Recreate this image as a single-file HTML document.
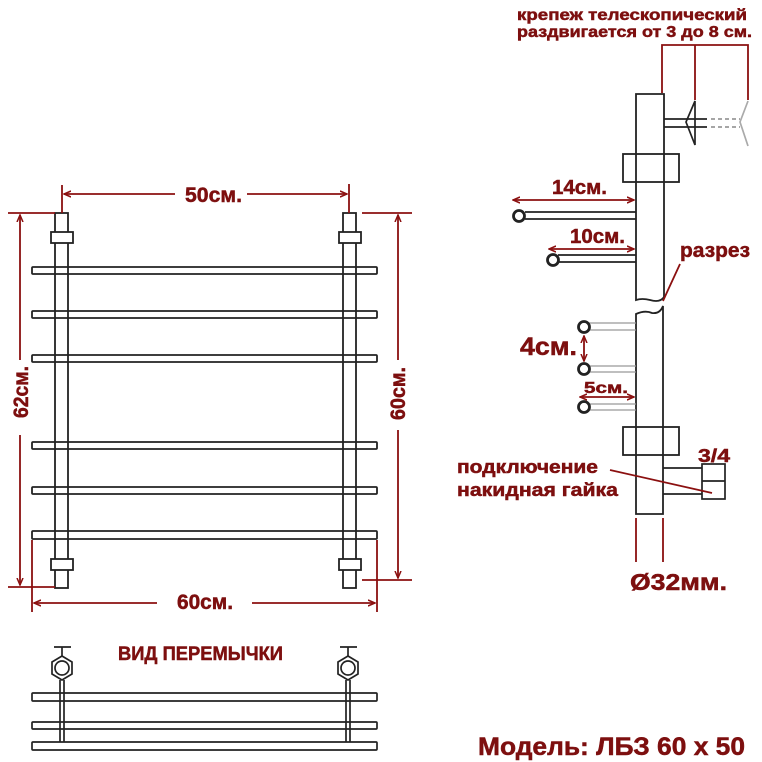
<!DOCTYPE html>
<html><head><meta charset="utf-8"><style>
html,body{margin:0;padding:0;background:#fff;width:762px;height:762px;overflow:hidden}
svg{display:block}
text{font-family:"Liberation Sans",sans-serif;font-weight:bold;fill:#7d0f0f;stroke:#7d0f0f;stroke-width:0.5}
</style></head><body>
<svg width="762" height="762" viewBox="0 0 762 762" xmlns="http://www.w3.org/2000/svg">
<defs>
<marker id="a" markerWidth="8" markerHeight="8" refX="7" refY="4" orient="auto-start-reverse" markerUnits="userSpaceOnUse"><path d="M0,1 L7,4 L0,7" fill="none" stroke="#8b1010" stroke-width="1.5"/></marker>
</defs>
<g fill="#fff" stroke="#222" stroke-width="1.8">
<rect x="55" y="213" width="13" height="375"/>
<rect x="343" y="213" width="13" height="375"/>
<rect x="51" y="232" width="22" height="11"/>
<rect x="339" y="232" width="22" height="11"/>
<rect x="51" y="559" width="22" height="11"/>
<rect x="339" y="559" width="22" height="11"/>
</g>
<g fill="none" stroke="#222" stroke-width="1.8">
<rect x="32" y="267" width="345" height="7" rx="1"/>
<rect x="32" y="311" width="345" height="7" rx="1"/>
<rect x="32" y="355" width="345" height="7" rx="1"/>
<rect x="32" y="442" width="345" height="7" rx="1"/>
<rect x="32" y="487" width="345" height="7" rx="1"/>
<rect x="32" y="531" width="345" height="8" rx="1"/>
</g>
<g stroke="#8b1010" stroke-width="1.8" fill="none">
<line x1="62" y1="185" x2="62" y2="213"/><line x1="349" y1="184" x2="349" y2="213"/>
<line x1="64" y1="194" x2="175" y2="194" marker-start="url(#a)"/>
<line x1="247" y1="194" x2="347" y2="194" marker-end="url(#a)"/>
<line x1="8" y1="213" x2="55" y2="213"/><line x1="8" y1="587" x2="55" y2="587"/>
<line x1="20" y1="215" x2="20" y2="360" marker-start="url(#a)"/>
<line x1="20" y1="435" x2="20" y2="585" marker-end="url(#a)"/>
<line x1="362" y1="213" x2="412" y2="213"/><line x1="362" y1="580" x2="412" y2="580"/>
<line x1="398" y1="215" x2="398" y2="360" marker-start="url(#a)"/>
<line x1="398" y1="430" x2="398" y2="578" marker-end="url(#a)"/>
<line x1="32" y1="540" x2="32" y2="612"/><line x1="377" y1="540" x2="377" y2="612"/>
<line x1="34" y1="603" x2="157" y2="603" marker-start="url(#a)"/>
<line x1="252" y1="603" x2="375" y2="603" marker-end="url(#a)"/>
</g>
<text x="185" y="202" font-size="21" textLength="57" lengthAdjust="spacingAndGlyphs">50см.</text>
<text x="177" y="609" font-size="21" textLength="56" lengthAdjust="spacingAndGlyphs">60см.</text>
<text transform="translate(28,418) rotate(-90)" font-size="21" textLength="52" lengthAdjust="spacingAndGlyphs">62см.</text>
<text transform="translate(405,420) rotate(-90)" font-size="21" textLength="53" lengthAdjust="spacingAndGlyphs">60см.</text>

<text x="517" y="20" font-size="16" textLength="230" lengthAdjust="spacingAndGlyphs">крепеж телескопический</text>
<text x="517" y="37" font-size="16" textLength="235" lengthAdjust="spacingAndGlyphs">раздвигается от 3 до 8 см.</text>
<g stroke="#8b1010" stroke-width="1.8" fill="none">
<polyline points="662,93 662,45 748,45 748,100"/>
<line x1="695" y1="45" x2="695" y2="100"/>
</g>
<g stroke="#222" stroke-width="1.8" fill="#fff">
<path d="M636,94 H664 V297 Q660,303 650,300 Q642,298 636,300 Z"/>
<path d="M636,314 Q645,310 652,313 Q660,314 663,306 V514 H636 Z"/>
<rect x="623" y="154" width="56" height="28" fill="none"/>
<rect x="623" y="427" width="56" height="28" fill="none"/>
</g>
<g stroke="#222" stroke-width="1.7" fill="none">
<line x1="664" y1="119" x2="707" y2="119"/><line x1="664" y1="127" x2="707" y2="127"/>
<path d="M695,101 L686,122 L695,145 Z"/>
<line x1="711" y1="119" x2="740" y2="119" stroke="#999" stroke-dasharray="4,3"/>
<line x1="711" y1="127" x2="740" y2="127" stroke="#999" stroke-dasharray="4,3"/>
<path d="M748,101 L740,122 L748,146" stroke="#aaa"/>
<line x1="525" y1="212" x2="636" y2="212"/><line x1="525" y1="219" x2="636" y2="219"/>
<line x1="558" y1="255" x2="636" y2="255"/><line x1="558" y1="262" x2="636" y2="262"/>
<circle cx="519" cy="216" r="5.5" stroke-width="2.8"/>
<circle cx="553" cy="260" r="5.5" stroke-width="2.8"/>
<g stroke="#999" stroke-width="1.2">
<line x1="589" y1="323" x2="636" y2="323"/><line x1="589" y1="330" x2="636" y2="330"/>
<line x1="589" y1="366" x2="636" y2="366"/><line x1="589" y1="372" x2="636" y2="372"/>
<line x1="589" y1="404" x2="636" y2="404"/><line x1="589" y1="410" x2="636" y2="410"/>
</g>
<circle cx="584" cy="327" r="5.5" stroke-width="2.8"/>
<circle cx="584" cy="369" r="5.5" stroke-width="2.8"/>
<circle cx="584" cy="407" r="5.5" stroke-width="2.8"/>
<line x1="663" y1="468" x2="702" y2="468"/><line x1="663" y1="494" x2="702" y2="494"/>
<rect x="702" y="464" width="23" height="35"/><line x1="702" y1="481" x2="725" y2="481"/>
</g>
<g stroke="#8b1010" stroke-width="1.8" fill="none">
<line x1="513" y1="200" x2="634" y2="200" marker-start="url(#a)" marker-end="url(#a)"/>
<line x1="549" y1="249" x2="634" y2="249" marker-start="url(#a)" marker-end="url(#a)"/>
<line x1="584" y1="336" x2="584" y2="361" marker-start="url(#a)" marker-end="url(#a)"/>
<line x1="580" y1="397" x2="634" y2="397" marker-start="url(#a)" marker-end="url(#a)"/>
<polyline points="680,264 668,290 663,301"/>
<line x1="610" y1="470" x2="712" y2="493"/>
<line x1="636" y1="518" x2="636" y2="562"/><line x1="663" y1="518" x2="663" y2="562"/>
</g>
<text x="552" y="194" font-size="20" textLength="55" lengthAdjust="spacingAndGlyphs">14см.</text>
<text x="570" y="243" font-size="20" textLength="55" lengthAdjust="spacingAndGlyphs">10см.</text>
<text x="680" y="257" font-size="20" textLength="70" lengthAdjust="spacingAndGlyphs">разрез</text>
<text x="520" y="355" font-size="25" textLength="57" lengthAdjust="spacingAndGlyphs">4см.</text>
<text x="584" y="393" font-size="16" textLength="44" lengthAdjust="spacingAndGlyphs">5см.</text>
<text x="698" y="462" font-size="18" textLength="32" lengthAdjust="spacingAndGlyphs">3/4</text>
<text x="457" y="473" font-size="18" textLength="141" lengthAdjust="spacingAndGlyphs">подключение</text>
<text x="457" y="496" font-size="18" textLength="161" lengthAdjust="spacingAndGlyphs">накидная гайка</text>
<text x="630" y="590" font-size="23" textLength="97" lengthAdjust="spacingAndGlyphs">Ø32мм.</text>

<text x="118" y="660" font-size="19" textLength="165" lengthAdjust="spacingAndGlyphs">ВИД ПЕРЕМЫЧКИ</text>
<g stroke="#222" stroke-width="1.7" fill="#fff">
<line x1="60" y1="680" x2="60" y2="742"/><line x1="64" y1="680" x2="64" y2="742"/>
<line x1="346" y1="680" x2="346" y2="742"/><line x1="350" y1="680" x2="350" y2="742"/>
<rect x="32" y="693" width="345" height="8" rx="1" fill="none"/>
<rect x="32" y="722" width="345" height="7" rx="1" fill="none"/>
<rect x="32" y="742" width="345" height="8" rx="1" fill="none"/>
<line x1="54" y1="647" x2="71" y2="647"/><line x1="62" y1="647" x2="62" y2="656"/>
<line x1="340" y1="647" x2="357" y2="647"/><line x1="348" y1="647" x2="348" y2="656"/>
<polygon points="62,656 72,662 72,674 62,680 52,674 52,662"/>
<polygon points="348,656 358,662 358,674 348,680 338,674 338,662"/>
<circle cx="62" cy="668" r="7"/><circle cx="348" cy="668" r="7"/>
</g>
<text x="478" y="755" font-size="25" textLength="267" lengthAdjust="spacingAndGlyphs">Модель: ЛБЗ 60 х 50</text>
</svg>
</body></html>
